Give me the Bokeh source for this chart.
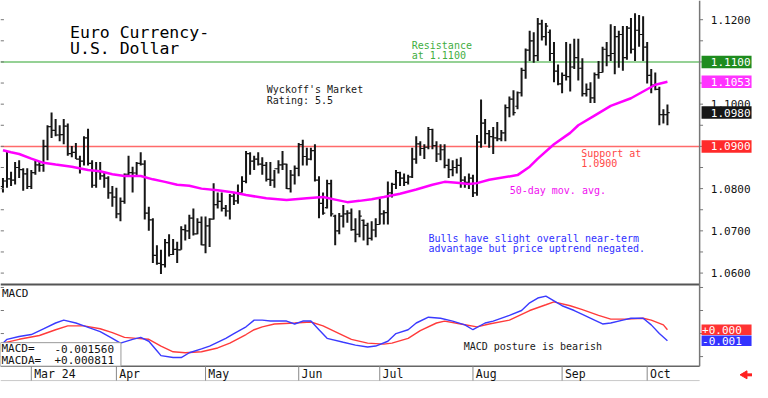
import math
import numpy as np
import pandas as pd
from bokeh.plotting import figure
from bokeh.models import Range1d
from bokeh.core.properties import value
from bokeh.embed import file_html
from bokeh.resources import INLINE

# ---------------- data ----------------
dates = pd.bdate_range("2024-02-21", "2024-10-08")

highs = [1.0825,1.0889,1.0840,1.0863,1.0867,1.0848,1.0848,1.0844,1.0867,1.0863,
 1.0916,1.0950,1.0980,1.0965,1.0950,1.0965,1.0954,1.0901,1.0908,1.0878,
 1.0924,1.0942,1.0867,1.0863,1.0863,1.0840,1.0829,1.0806,1.0802,1.0779,
 1.0836,1.0878,1.0852,1.0863,1.0886,1.0867,1.0757,1.0730,1.0666,1.0655,
 1.0681,1.0692,1.0681,1.0674,1.0711,1.0715,1.0738,1.0753,1.0730,1.0734,
 1.0734,1.0730,1.0813,1.0791,1.0791,1.0761,1.0787,1.0791,1.0810,1.0829,
 1.0889,1.0886,1.0878,1.0886,1.0874,1.0863,1.0863,1.0844,1.0867,1.0889,
 1.0859,1.0844,1.0855,1.0908,1.0916,1.0897,1.0897,1.0905,1.0829,1.0791,
 1.0821,1.0821,1.0738,1.0742,1.0761,1.0749,1.0753,1.0730,1.0749,1.0727,
 1.0719,1.0723,1.0730,1.0776,1.0749,1.0817,1.0814,1.0844,1.0840,1.0836,
 1.0833,1.0897,1.0924,1.0912,1.0905,1.0946,1.0942,1.0912,1.0905,1.0905,
 1.0871,1.0867,1.0871,1.0874,1.0829,1.0836,1.0833,1.0927,1.1011,1.0965,
 1.0939,1.0946,1.0958,1.0939,1.0999,1.1018,1.1033,1.1030,1.1086,1.1132,
 1.1174,1.1170,1.1204,1.1200,1.1192,1.1177,1.1147,1.1094,1.1075,1.1147,
 1.1143,1.1155,1.1155,1.1109,1.1049,1.1052,1.1075,1.1102,1.1136,1.1147,
 1.1189,1.1185,1.1174,1.1185,1.1185,1.1204,1.1215,1.1211,1.1208,1.1147,
 1.1083,1.1075,1.1041,1.0988,1.0999]

lows = [1.0791,1.0802,1.0806,1.0810,1.0825,1.0795,1.0799,1.0799,1.0833,1.0840,
 1.0840,1.0867,1.0920,1.0924,1.0912,1.0905,1.0878,1.0874,1.0870,1.0836,
 1.0855,1.0855,1.0802,1.0802,1.0821,1.0802,1.0776,1.0757,1.0730,1.0723,
 1.0764,1.0829,1.0791,1.0829,1.0855,1.0727,1.0700,1.0624,1.0620,1.0598,
 1.0613,1.0639,1.0643,1.0624,1.0655,1.0677,1.0681,1.0689,1.0692,1.0666,
 1.0647,1.0662,1.0727,1.0753,1.0746,1.0734,1.0727,1.0761,1.0764,1.0791,
 1.0813,1.0833,1.0844,1.0855,1.0833,1.0817,1.0806,1.0802,1.0836,1.0844,
 1.0799,1.0791,1.0810,1.0829,1.0855,1.0855,1.0867,1.0817,1.0730,1.0738,
 1.0753,1.0734,1.0666,1.0692,1.0708,1.0719,1.0700,1.0673,1.0685,1.0677,
 1.0666,1.0677,1.0685,1.0715,1.0715,1.0715,1.0779,1.0799,1.0806,1.0806,
 1.0810,1.0825,1.0859,1.0878,1.0870,1.0893,1.0893,1.0863,1.0867,1.0848,
 1.0825,1.0829,1.0836,1.0802,1.0802,1.0799,1.0780,1.0783,1.0897,1.0905,
 1.0897,1.0882,1.0912,1.0912,1.0912,1.0969,1.0973,1.0988,1.1018,1.1060,
 1.1102,1.1098,1.1102,1.1151,1.1139,1.1102,1.1052,1.1045,1.1026,1.1056,
 1.1030,1.1083,1.1056,1.1018,1.1018,1.1003,1.1003,1.1060,1.1075,1.1090,
 1.1102,1.1071,1.1086,1.1079,1.1105,1.1120,1.1102,1.1136,1.1102,1.1049,
 1.1026,1.1033,1.0950,1.0954,1.0950]

opens = [1.0805,1.0818,1.0823,1.0820,1.0850,1.0845,1.0835,1.0805,1.0838,1.0856,
 1.0855,1.0900,1.0947,1.0938,1.0927,1.0928,1.0948,1.0883,1.0886,1.0870,
 1.0865,1.0920,1.0860,1.0808,1.0840,1.0830,1.0825,1.0790,1.0780,1.0740,
 1.0770,1.0834,1.0838,1.0837,1.0860,1.0858,1.0742,1.0726,1.0642,1.0623,
 1.0620,1.0672,1.0644,1.0656,1.0655,1.0703,1.0700,1.0730,1.0693,1.0720,
 1.0667,1.0712,1.0728,1.0762,1.0770,1.0753,1.0747,1.0782,1.0771,1.0790,
 1.0817,1.0883,1.0865,1.0870,1.0858,1.0855,1.0822,1.0820,1.0847,1.0856,
 1.0858,1.0800,1.0832,1.0848,1.0904,1.0876,1.0870,1.0890,1.0820,1.0765,
 1.0755,1.0812,1.0735,1.0700,1.0735,1.0740,1.0742,1.0703,1.0692,1.0725,
 1.0713,1.0682,1.0702,1.0715,1.0740,1.0743,1.0790,1.0810,1.0838,1.0825,
 1.0815,1.0828,1.0870,1.0906,1.0895,1.0898,1.0940,1.0902,1.0882,1.0892,
 1.0855,1.0845,1.0850,1.0855,1.0820,1.0815,1.0825,1.0790,1.0910,1.0955,
 1.0930,1.0923,1.0920,1.0918,1.0932,1.0992,1.1012,1.0995,1.1027,1.1080,
 1.1128,1.1150,1.1115,1.1190,1.1160,1.1170,1.1120,1.1078,1.1048,1.1068,
 1.1065,1.1088,1.1110,1.1085,1.1025,1.1035,1.1015,1.1070,1.1075,1.1130,
 1.1115,1.1120,1.1160,1.1165,1.1110,1.1180,1.1130,1.1175,1.1165,1.1135,
 1.1068,1.1045,1.1035,1.0975,1.0975]

closes = [1.0818,1.0823,1.0820,1.0850,1.0845,1.0835,1.0805,1.0838,1.0856,1.0855,
 1.0900,1.0947,1.0938,1.0927,1.0928,1.0948,1.0883,1.0886,1.0870,1.0865,
 1.0920,1.0860,1.0808,1.0840,1.0830,1.0825,1.0790,1.0780,1.0740,1.0770,
 1.0834,1.0838,1.0837,1.0860,1.0858,1.0742,1.0726,1.0642,1.0623,1.0620,
 1.0672,1.0644,1.0656,1.0655,1.0703,1.0700,1.0730,1.0693,1.0720,1.0667,
 1.0712,1.0728,1.0762,1.0770,1.0753,1.0747,1.0782,1.0771,1.0790,1.0817,
 1.0883,1.0865,1.0870,1.0858,1.0855,1.0822,1.0820,1.0847,1.0856,1.0858,
 1.0800,1.0832,1.0848,1.0904,1.0876,1.0870,1.0890,1.0820,1.0765,1.0742,
 1.0812,1.0740,1.0700,1.0735,1.0740,1.0742,1.0703,1.0692,1.0735,1.0713,
 1.0682,1.0702,1.0715,1.0740,1.0743,1.0790,1.0810,1.0838,1.0825,1.0815,
 1.0828,1.0870,1.0906,1.0895,1.0898,1.0940,1.0902,1.0882,1.0892,1.0855,
 1.0845,1.0850,1.0855,1.0820,1.0815,1.0825,1.0790,1.0910,1.0955,1.0930,
 1.0923,1.0920,1.0918,1.0932,1.0992,1.1012,1.0980,1.1027,1.1080,1.1128,
 1.1150,1.1115,1.1190,1.1160,1.1185,1.1120,1.1078,1.1048,1.1068,1.1065,
 1.1088,1.1110,1.1085,1.1025,1.1035,1.1015,1.1070,1.1075,1.1130,1.1115,
 1.1120,1.1160,1.1165,1.1110,1.1180,1.1130,1.1175,1.1165,1.1135,1.1068,
 1.1045,1.1035,1.0975,1.0975,1.0980]

# 50-day moving average (bar index, value)
ma_idx = [0,2,4,7,10,13,17,21,24,27,30,34,37,40,43,46,49,53,57,60,65,70,75,79,82,85,88,91,94,98,
          102,106,109,112,115,117,120,127,130,132,136,140,142,146,150,155,158,161,164]
ma_val = [1.0891,1.0886,1.0882,1.0871,1.0861,1.0857,1.0852,1.0844,1.0841,1.0834,1.0830,1.0830,1.0822,
          1.0816,1.0809,1.0807,1.0800,1.0796,1.0791,1.0785,1.0777,1.0773,1.0777,1.0780,1.0774,1.0768,
          1.0771,1.0775,1.0780,1.0788,1.0798,1.0809,1.0816,1.0814,1.0811,1.0813,1.0821,1.0832,1.0852,
          1.0871,1.0905,1.0932,1.0950,1.0973,1.0996,1.1014,1.1030,1.1046,1.1053]

# MACD (blue) and MACD average (red)
macd_idx = [0,1,4,7,10,13,15,18,20,24,27,29,32,34,36,38,39,42,44,46,49,51,55,57,60,62,64,66,70,72,
            74,76,78,80,84,87,90,92,95,97,100,102,105,108,111,114,116,119,121,125,128,130,132,134,136,
            138,141,143,146,148,150,153,155,158,160,162,164]
macd_val = [-0.0021,-0.00125,-0.00063,-0.00021,0.00104,0.00229,0.00292,0.00229,0.00167,0.00042,
            -0.00104,-0.00208,-0.00125,-0.00083,-0.00167,-0.00375,-0.00479,-0.00521,-0.00521,-0.00417,
            -0.00333,-0.00271,-0.00104,0.0,0.00146,0.00292,0.00292,0.00271,0.00271,0.00208,
            0.00271,0.00271,0.00083,-0.00104,-0.00188,-0.0025,-0.00292,-0.00271,-0.00167,0.0,
            0.00083,0.00229,0.00354,0.00333,0.00271,0.00188,0.00083,0.00229,0.00271,0.00396,
            0.005,0.00667,0.00771,0.00813,0.00708,0.00604,0.005,0.00417,0.00292,0.00208,
            0.00229,0.00292,0.00333,0.00333,0.00188,0.0,-0.00156]
sig_idx = [0,4,9,13,16,20,24,27,30,33,36,39,42,45,49,53,56,60,62,64,67,72,76,79,83,86,90,94,96,100,
           103,107,109,113,117,120,125,130,134,136,140,143,147,150,154,158,160,163,164]
sig_val = [-0.00208,-0.00125,-0.00042,0.00083,0.00167,0.00167,0.00104,0.00021,-0.00083,-0.00104,
           -0.00125,-0.00271,-0.00396,-0.00417,-0.00396,-0.00313,-0.00208,-0.00021,0.00083,0.00146,
           0.00208,0.00229,0.0025,0.00167,0.0,-0.00125,-0.00208,-0.00229,-0.00208,-0.00104,
           0.00063,0.00229,0.00271,0.00208,0.00146,0.00208,0.00292,0.005,0.00625,0.00688,
           0.00604,0.00521,0.00396,0.00313,0.00313,0.00333,0.00292,0.00188,0.000811]

SUPPORT = 1.0900
RESISTANCE = 1.1100
price_ticks = [1.12, 1.11, 1.10, 1.09, 1.08, 1.07, 1.06]
price_tick_labels = ["1.1200", "1.1100", "1.1000", "1.0900", "1.0800", "1.0700", "1.0600"]
price_minor_ticks = [1.12, 1.115, 1.11, 1.105, 1.10, 1.095, 1.09, 1.085, 1.08, 1.075, 1.07, 1.065, 1.06]
macd_ticks = [0.010, 0.005, 0.0, -0.005]
month_labels = ["Mar 24", "Apr", "May", "Jun", "Jul", "Aug", "Sep", "Oct"]

# ---------------- layout helpers (reference pixel -> coordinates) ----------------
W, H = 752, 382
REF_W, REF_H = 768, 398
BAR_PX = 4.138
X0_PX = 2.5
MONO = "DejaVu Sans Mono"

def fx(px):
    return (px - X0_PX) / BAR_PX

def fp(py):
    return 1.12 - (py - 20) / 4400.0

def fm(py):
    return (347 - py) / 4800.0

AXIS_X = fx(714)
XL = fx(0)
TICK = fx(X0_PX + 2.3) - fx(X0_PX)
EDGE_TICK = fx(3.5) - fx(0)

p = figure(width=W, height=H, output_backend="svg", toolbar_location=None, tools="",
           x_range=Range1d(fx(0), fx(REF_W)), y_range=Range1d(fp(REF_H), fp(0)),
           x_axis_location=None, y_axis_location=None, min_border=0,
           outline_line_color=None, background_fill_color="white", border_fill_color="white")
p.xgrid.visible = False
p.ygrid.visible = False
p.extra_y_ranges = {"macd": Range1d(fm(REF_H), fm(0))}

def txt(x, y, t, color="#111111", size="10px", align="left", rng="default"):
    p.text(x=x, y=y, text=t, text_font=value(MONO), text_font_size=value(size),
           text_color=color, text_align=align, text_baseline="middle", y_range_name=rng)

# support / resistance
p.segment(x0=[XL], y0=[RESISTANCE], x1=[AXIS_X], y1=[RESISTANCE], line_color="#72c272", line_width=1.5)
p.segment(x0=[XL], y0=[SUPPORT], x1=[AXIS_X], y1=[SUPPORT], line_color="#ff6a6a", line_width=1.5)

# price bars
idx = np.arange(len(dates))
p.segment(x0=idx, y0=lows, x1=idx, y1=highs, line_color="#161616", line_width=2)
p.segment(x0=idx - TICK, y0=opens, x1=idx, y1=opens, line_color="#161616", line_width=1.2)
p.segment(x0=idx, y0=closes, x1=idx + TICK, y1=closes, line_color="#161616", line_width=1.2)

# moving average
p.line(ma_idx, ma_val, line_color="#ff00ff", line_width=2.5)

# MACD lines
p.line(sig_idx, sig_val, line_color="#ff3b3b", line_width=1.4, y_range_name="macd")
p.line(macd_idx, macd_val, line_color="#3a3aff", line_width=1.4, y_range_name="macd")

# frame lines
p.segment(x0=[XL], y0=[fp(296)], x1=[AXIS_X], y1=[fp(296)], line_color="#555555", line_width=2)
p.segment(x0=[XL], y0=[fp(381)], x1=[AXIS_X], y1=[fp(381)], line_color="#666666", line_width=1.5)
p.segment(x0=[XL], y0=[fp(396)], x1=[AXIS_X], y1=[fp(396)], line_color="#c8c8c8", line_width=1)
p.segment(x0=[AXIS_X], y0=[fp(0)], x1=[AXIS_X], y1=[fp(381)], line_color="#777777", line_width=1.5)

# price ticks (both edges)
n = len(price_minor_ticks)
p.segment(x0=[AXIS_X] * n, y0=price_minor_ticks, x1=[AXIS_X + EDGE_TICK] * n, y1=price_minor_ticks,
          line_color="#777777", line_width=1)
p.segment(x0=[XL] * n, y0=price_minor_ticks, x1=[XL + EDGE_TICK] * n, y1=price_minor_ticks,
          line_color="#777777", line_width=1)
m = len(macd_ticks)
p.segment(x0=[AXIS_X] * m, y0=macd_ticks, x1=[AXIS_X + EDGE_TICK] * m, y1=macd_ticks,
          line_color="#777777", line_width=1, y_range_name="macd")
p.segment(x0=[XL] * m, y0=macd_ticks, x1=[XL + EDGE_TICK] * m, y1=macd_ticks,
          line_color="#777777", line_width=1, y_range_name="macd")

# price axis labels
txt([fx(766)] * len(price_ticks), price_ticks, price_tick_labels, color="#111111", size="11px", align="right")

# price tags
tag_vals = [RESISTANCE, ma_val[-1], closes[-1], SUPPORT]
tag_cols = ["#1e8c1e", "#ff33ff", "#161616", "#ff2a2a"]
p.rect(x=[fx(741.5)] * 4, y=tag_vals, width=50, height=12.5, width_units="screen", height_units="screen",
       fill_color=tag_cols, line_color=None)
txt([fx(766)] * 4, tag_vals, [f"{v:.4f}" for v in tag_vals], color="white", size="11px", align="right")

# MACD tags
mtag_vals = [sig_val[-1], macd_val[-1]]
mtag_cols = ["#ff3333", "#3333ff"]
p.rect(x=[fx(741.5)] * 2, y=mtag_vals, width=50, height=10.5, width_units="screen", height_units="screen",
       fill_color=mtag_cols, line_color=None, y_range_name="macd")
txt([fx(716.5)] * 2, mtag_vals, [f"{math.trunc(v * 1000) / 1000:+.3f}" for v in mtag_vals],
    color="white", size="11px", rng="macd")

# MACD read-out box
p.quad(left=[XL], right=[fx(123)], top=[fm(356.5)], bottom=[fm(381)], fill_color="white",
       line_color="#999999", line_width=1, y_range_name="macd")
txt([fx(1)] * 2, [fm(363), fm(375)], ["MACD=", "MACDA="], size="11px", rng="macd")
txt([fx(116)] * 2, [fm(363), fm(375)], [f"{macd_val[-1]:+.6f}", f"{sig_val[-1]:+.6f}"],
    size="11px", align="right", rng="macd")

# month strip
month_idx = [i for i in range(1, len(dates)) if dates[i].month != dates[i - 1].month]
k = len(month_idx)
p.segment(x0=month_idx, y0=[fp(381)] * k, x1=month_idx, y1=[fp(396)] * k, line_color="#888888", line_width=1)
txt([i + 0.7 for i in month_idx], [fp(389.5)] * k, month_labels, size="11.5px")

# red arrow at bottom right
p.scatter(x=[fx(760)], y=[fp(390)], marker="triangle", size=8, angle=math.pi / 2,
          fill_color="#ff2020", line_color="#ff2020")
p.rect(x=[fx(765)], y=[fp(390)], width=5, height=3, width_units="screen", height_units="screen",
       fill_color="#ff2020", line_color=None)

# annotations
txt([fx(71)] * 2, [fp(33), fp(50)], ["Euro Currency-", "U.S. Dollar"], color="#000000", size="16.5px")
txt([fx(420)] * 2, [fp(47), fp(57)], ["Resistance", "at 1.1100"], color="#3fae3f")
txt([fx(272)] * 2, [fp(93), fp(104)], ["Wyckoff's Market", "Rating: 5.5"], color="#1a1a1a")
txt([fx(593)] * 2, [fp(159), fp(169.5)], ["Support at", "1.0900"], color="#ff4646")
txt([fx(520)], [fp(198)], ["50-day mov. avg."], color="#f010f0")
txt([fx(437)] * 2, [fp(248), fp(258.5)],
    ["Bulls have slight overall near-term", "advantage but price uptrend negated."], color="#3030ff")
txt([fx(1.5)], [fm(305.5)], ["MACD"], size="11px", rng="macd")
txt([fx(473)], [fm(360.5)], ["MACD posture is bearish"], color="#1a1a1a", rng="macd")

open("out.html", "w").write(file_html(p, INLINE))
